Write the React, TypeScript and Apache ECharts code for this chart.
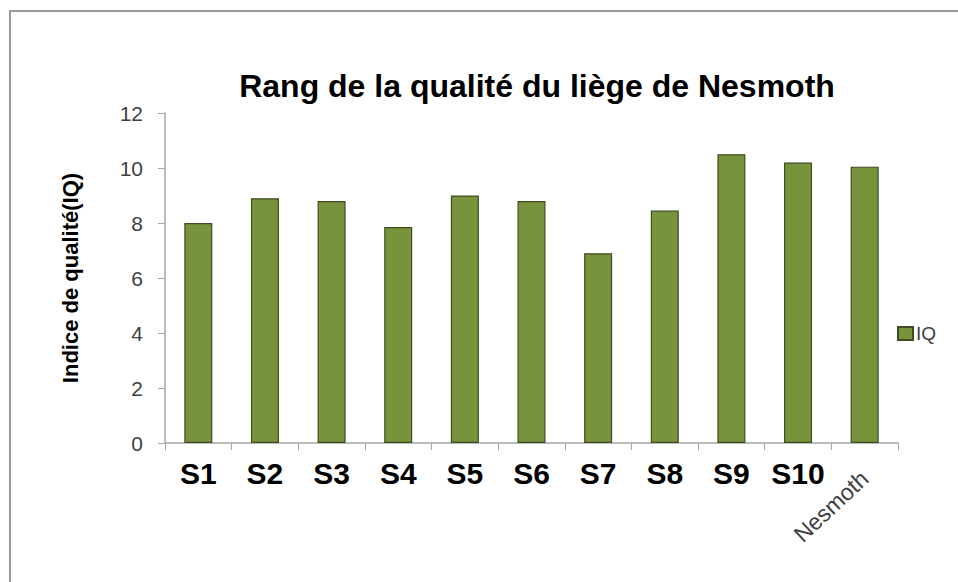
import React, { useEffect, useRef } from "react";
import * as echarts from "echarts";

const categories = ["S1", "S2", "S3", "S4", "S5", "S6", "S7", "S8", "S9", "S10", "Nesmoth"];
const iqValues = [8.0, 8.9, 8.8, 7.85, 9.0, 8.8, 6.9, 8.45, 10.5, 10.2, 10.05];
const yTicks = { min: 0, max: 12, interval: 2 };
const titleText = "Rang de la qualité du liège de Nesmoth";
const yAxisName = "Indice de qualité(IQ)";
const seriesName = "IQ";

export default function App() {
  const ref = useRef<HTMLDivElement>(null);
  useEffect(() => {
    if (!ref.current) return;
    const chart = echarts.init(ref.current, undefined, { renderer: "svg" });
    const font = "'Liberation Sans', Arial, sans-serif";
    const lastCat = categories[categories.length - 1];
    chart.setOption({
      animation: false,
      backgroundColor: "#ffffff",
      textStyle: { fontFamily: font },
      title: {
        text: titleText,
        left: 532,
        textAlign: "center",
        top: 65,
        textStyle: { fontSize: 32, fontWeight: "bold", color: "#000", fontFamily: font },
      },
      legend: {
        data: [seriesName],
        orient: "vertical",
        left: 892,
        top: 319,
        itemWidth: 15,
        itemHeight: 13,
        itemGap: 4,
        icon: "rect",
        textStyle: { fontSize: 19, color: "#404040", fontFamily: font, padding: [0, 0, 0, -2] },
      },
      grid: { left: 165, right: 60, top: 113, bottom: 139, containLabel: false },
      xAxis: [
        {
          type: "category",
          data: categories,
          boundaryGap: true,
          axisLine: { lineStyle: { color: "#a6a6a6", width: 1.5 } },
          axisTick: { show: true, length: 7, lineStyle: { color: "#a6a6a6" }, interval: 0 },
          axisLabel: {
            interval: 0,
            margin: 15,
            fontSize: 30,
            fontWeight: "bold",
            color: "#000",
            fontFamily: font,
            formatter: (v: string) => (v === lastCat ? "" : v),
          },
        },
        {
          type: "category",
          data: categories,
          position: "bottom",
          boundaryGap: true,
          axisLine: { show: false },
          axisTick: { show: false },
          axisLabel: {
            interval: 0,
            rotate: 43,
            margin: 32,
            fontSize: 23,
            color: "#404040",
            fontFamily: font,
            formatter: (v: string) => (v === lastCat ? v : ""),
          },
        },
      ],
      yAxis: {
        type: "value",
        min: yTicks.min,
        max: yTicks.max,
        interval: yTicks.interval,
        name: yAxisName,
        nameLocation: "middle",
        nameRotate: 90,
        nameGap: 84,
        nameTextStyle: { fontSize: 22, fontWeight: "bold", color: "#000", fontFamily: font },
        axisLine: { show: true, lineStyle: { color: "#a6a6a6", width: 1.5 } },
        axisTick: { show: true, length: 7, lineStyle: { color: "#a6a6a6" } },
        axisLabel: { fontSize: 21, color: "#404040", margin: 22, fontFamily: font },
        splitLine: { show: false },
      },
      series: [
        {
          name: seriesName,
          type: "bar",
          xAxisIndex: 0,
          data: iqValues,
          barWidth: 28,
          itemStyle: { color: "#77933C", borderColor: "#3e4d1f", borderWidth: 1.2 },
        },
      ],
      graphic: [
        {
          type: "rect",
          shape: { x: 10, y: 11, width: 1000, height: 1000 },
          style: { fill: "none", stroke: "#9a9a9a", lineWidth: 2 },
          silent: true,
        },
      ],
    });
    return () => chart.dispose();
  }, []);
  return (
    <div
      ref={ref}
      style={{ position: "fixed", left: 0, top: 0, width: 958, height: 582 }}
    />
  );
}
